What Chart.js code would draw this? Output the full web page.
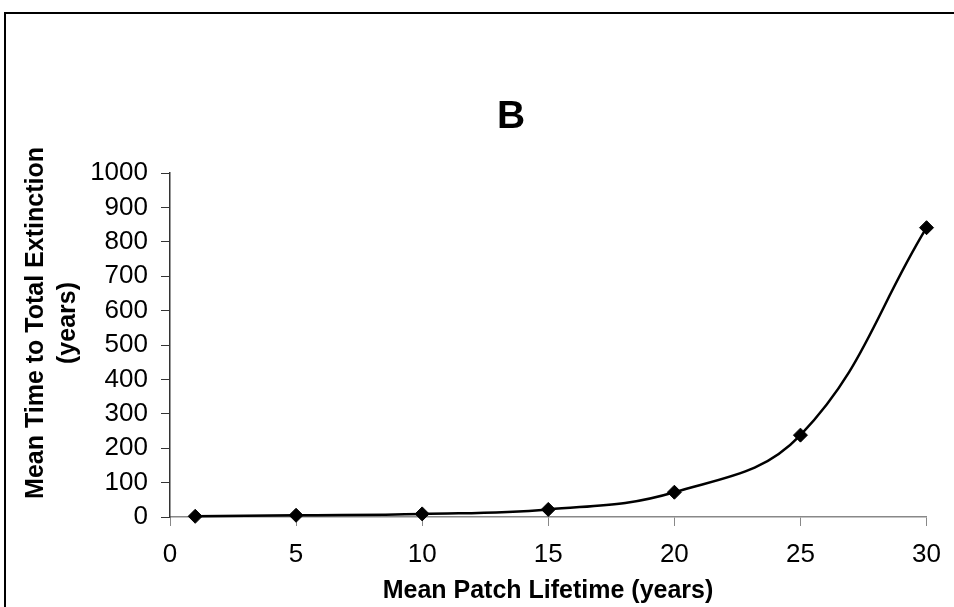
<!DOCTYPE html>
<html>
<head>
<meta charset="utf-8">
<script src="https://cdn.jsdelivr.net/npm/chart.js@4"></script>
<style>
  html, body { margin: 0; padding: 0; background: #fff; }
  #wrap { width: 954px; height: 607px; }
</style>
</head>
<body>
<div id="wrap"><canvas id="chart" width="954" height="607"></canvas></div>
<script>
  const lifetimes = [1, 5, 10, 15, 20, 25, 30];
  const extinctionTimes = [2, 5, 9, 22, 72, 238, 841];
  const chartTitle = 'B';
  const xTitle = 'Mean Patch Lifetime (years)';
  const yTitleLines = ['Mean Time to Total Extinction', '(years)'];

  const FONT = '"Liberation Sans", Arial, sans-serif';

  // frame and titles are drawn by hand to match the original placement
  const decorations = {
    id: 'decorations',
    beforeDraw(chart) {
      const ctx = chart.ctx;
      ctx.save();
      ctx.fillStyle = '#fff';
      ctx.fillRect(0, 0, chart.width, chart.height);
      ctx.strokeStyle = '#000';
      ctx.lineWidth = 2;
      ctx.strokeRect(5, 13, 1200, 1200);
      ctx.restore();
    },
    afterDraw(chart) {
      const ctx = chart.ctx;
      ctx.save();
      ctx.fillStyle = '#000';
      ctx.textAlign = 'center';
      ctx.textBaseline = 'alphabetic';

      ctx.font = 'bold 39px ' + FONT;
      ctx.fillText(chartTitle, 511, 128);

      ctx.font = 'bold 25px ' + FONT;
      ctx.fillText(xTitle, 548, 598);

      ctx.translate(43, 323);
      ctx.rotate(-Math.PI / 2);
      ctx.fillText(yTitleLines[0], 0, 0);
      ctx.fillText(yTitleLines[1], 0, 32);
      ctx.restore();
    }
  };

  new Chart(document.getElementById('chart'), {
    type: 'line',
    data: {
      datasets: [{
        data: lifetimes.map((x, i) => ({ x: x, y: extinctionTimes[i] })),
        borderColor: '#000',
        borderWidth: 2.5,
        tension: 0.4,
        pointStyle: 'rectRot',
        pointRadius: 7,
        pointBackgroundColor: '#000',
        pointBorderColor: '#000',
        pointBorderWidth: 1,
        clip: false
      }]
    },
    options: {
      responsive: false,
      animation: false,
      layout: { padding: { left: 60, right: 26, top: 173, bottom: 30 } },
      plugins: {
        legend: { display: false },
        tooltip: { enabled: false }
      },
      scales: {
        x: {
          type: 'linear',
          min: 0,
          max: 30,
          afterFit: s => { s.height = 60; },
          ticks: {
            stepSize: 5,
            padding: 13,
            color: '#000',
            font: { family: FONT, size: 26 },
            maxRotation: 0
          },
          grid: {
            drawOnChartArea: false,
            drawTicks: true,
            tickLength: 9,
            color: '#888'
          },
          border: { color: '#888', width: 1.5 }
        },
        y: {
          min: 0,
          max: 1000,
          afterFit: s => { s.width = 110; },
          ticks: {
            stepSize: 100,
            padding: 13,
            color: '#000',
            font: { family: FONT, size: 26 },
            callback: v => String(v)
          },
          grid: {
            drawOnChartArea: false,
            drawTicks: true,
            tickLength: 9,
            color: '#333'
          },
          border: { color: '#333', width: 1.5 }
        }
      }
    },
    plugins: [decorations]
  });
</script>
</body>
</html>
